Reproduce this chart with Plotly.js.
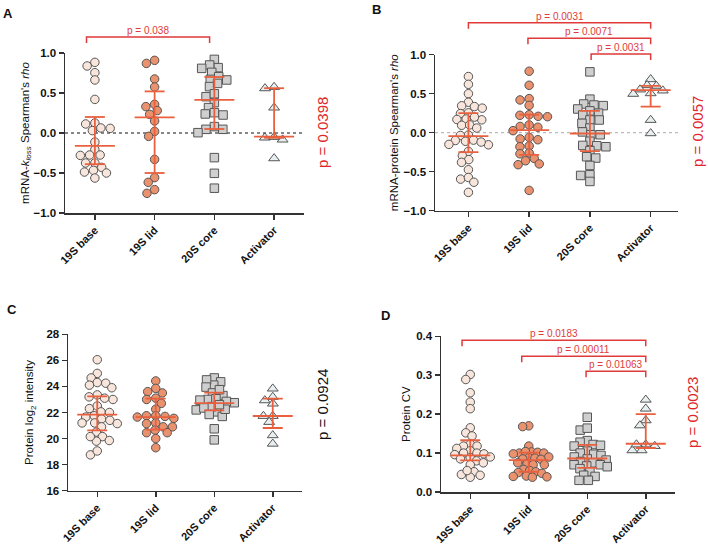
<!DOCTYPE html>
<html>
<head>
<meta charset="utf-8">
<script src="https://cdn.plot.ly/plotly-3.0.1.min.js"></script>
<style>html,body{margin:0;padding:0;background:#fff}#chart{width:708px;height:544px}</style>
</head>
<body>
<div id="chart"></div>
<script>
// ---------- DATA ----------
const categories = ["19S base", "19S lid", "20S core", "Activator"];

// Panel A: mRNA-kloss Spearman's rho
const baseA = [0.883, 0.838, 0.754, 0.663, 0.42, 0.125, 0.113, 0.063, 0.03, 0.058, -0.113, -0.208, -0.275, -0.275, -0.28, -0.375, -0.43, -0.375, -0.488, -0.467, -0.563, -0.5];
const lidA = [0.908, 0.87, 0.675, 0.575, 0.33, 0.358, 0.28, 0.233, 0.15, 0.02, -0.042, -0.33, -0.558, -0.617, -0.708, -0.754];
const coreA = [0.92, 0.817, 0.85, 0.808, 0.758, 0.704, 0.663, 0.67, 0.58, 0.62, 0.454, 0.49, 0.38, 0.317, 0.254, 0.225, 0.238, 0.08, 0.046, 0.004, 0.046, -0.308, -0.504, -0.69];
const actA = [0.575, 0.558, 0.317, -0.058, -0.083, -0.05, -0.317];
const medianA = [-0.16, 0.195, 0.415, -0.045];
const q1A = [-0.39, -0.5, 0.05, -0.06];
const q3A = [0.2, 0.52, 0.7, 0.56];

// Panel B: mRNA-protein Spearman's rho
const baseB = [0.72, 0.62, 0.5, 0.39, 0.335, 0.345, 0.315, 0.245, 0.255, 0.175, 0.165, 0.17, 0.2, 0.095, 0.1, 0.06, -0.03, -0.035, -0.095, -0.11, -0.1, -0.155, -0.15, -0.12, -0.24, -0.295, -0.345, -0.38, -0.475, -0.595, -0.574, -0.635, -0.765];
const lidB = [0.788, 0.608, 0.437, 0.42, 0.35, 0.23, 0.223, 0.21, 0.205, 0.1, 0.07, 0.08, 0.026, -0.06, -0.08, -0.09, -0.17, -0.18, -0.26, -0.27, -0.33, -0.36, -0.4, -0.41, -0.74];
const coreB = [0.78, 0.43, 0.368, 0.347, 0.355, 0.304, 0.28, 0.25, 0.227, 0.163, 0.163, 0.12, 0.06, 0.01, -0.026, -0.026, -0.11, -0.167, -0.18, -0.163, -0.23, -0.325, -0.308, -0.42, -0.54, -0.548, -0.625];
const actB = [0.685, 0.6, 0.608, 0.54, 0.553, 0.497, 0.505, 0.163, -0.008];
const medianB = [-0.045, 0.033, -0.01, 0.545];
const q1B = [-0.25, -0.285, -0.235, 0.335];
const q3B = [0.25, 0.232, 0.28, 0.6];

// Panel C: Protein log2 intensity
const baseC = [26.05, 25.0, 24.65, 24.25, 24.3, 23.9, 24.1, 23.35, 23.0, 23.1, 23.2, 22.3, 22.5, 22.0, 21.75, 22.05, 21.5, 21.4, 21.65, 21.2, 21.15, 21.2, 20.9, 20.5, 20.15, 19.85, 19.8, 20.15, 18.75, 19.05];
const lidC = [24.42, 23.5, 23.85, 23.6, 23.1, 23.0, 22.7, 22.25, 21.75, 21.55, 21.65, 21.7, 21.75, 21.2, 21.15, 20.9, 20.9, 20.65, 20.45, 20.45, 20.0, 19.3];
const coreC = [24.65, 24.35, 24.1, 24.5, 23.95, 23.5, 23.3, 23.75, 23.0, 22.75, 22.85, 22.95, 23.05, 22.2, 22.05, 22.45, 22.35, 21.85, 21.7, 22.25, 22.6, 20.75, 19.9];
const actC = [23.83, 23.19, 22.93, 22.68, 21.73, 21.73, 21.27, 20.25, 19.6];
const medianC = [21.83, 21.65, 22.72, 21.73];
const q1C = [20.63, 20.68, 22.17, 20.81];
const q3C = [23.24, 23.06, 23.52, 23.06];

// Panel D: Protein CV
const baseD = [0.302, 0.289, 0.255, 0.231, 0.214, 0.165, 0.152, 0.144, 0.123, 0.118, 0.112, 0.118, 0.106, 0.1, 0.1, 0.098, 0.096, 0.09, 0.088, 0.085, 0.08, 0.075, 0.07, 0.052, 0.045, 0.038, 0.043, 0.055];
const lidD = [0.17, 0.168, 0.118, 0.103, 0.1, 0.098, 0.102, 0.104, 0.1, 0.09, 0.088, 0.087, 0.085, 0.084, 0.075, 0.072, 0.07, 0.07, 0.058, 0.055, 0.052, 0.05, 0.048, 0.04, 0.039, 0.041, 0.038];
const coreD = [0.192, 0.159, 0.164, 0.132, 0.128, 0.122, 0.12, 0.118, 0.105, 0.1, 0.097, 0.094, 0.09, 0.085, 0.082, 0.078, 0.075, 0.07, 0.07, 0.067, 0.065, 0.06, 0.052, 0.043, 0.04, 0.03, 0.03];
const actD = [0.237, 0.214, 0.184, 0.171, 0.122, 0.118, 0.107, 0.107, 0.122];
const medianD = [0.094, 0.082, 0.086, 0.124];
const q1D = [0.081, 0.052, 0.062, 0.113];
const q3D = [0.133, 0.101, 0.121, 0.2];

// Pairwise comparisons: [group i, group j, label]
const pairsA = [[0, 2, "p = 0.038"]];
const pairsB = [[0, 3, "p = 0.0031"], [1, 3, "p = 0.0071"], [2, 3, "p = 0.0031"]];
const pairsD = [[0, 3, "p = 0.0183"], [1, 3, "p = 0.00011"], [2, 3, "p = 0.01063"]];
const overallP = ["p = 0.0398", "p = 0.0057", "p = 0.0924", "p = 0.0023"];

// ---------- STYLE / LAYOUT CONFIG ----------
const W = 708, H = 544;
const FONT = "Liberation Sans, Arial, Helvetica, sans-serif";
const EB = "#e9603f", BR = "#e03a3a", PRED = "#e0262a";
const markerStyles = [
  {symbol: "circle", color: "#f8e6dc", size: 8.5},
  {symbol: "circle", color: "#ea916e", size: 8.5},
  {symbol: "square", color: "#cfcfcf", size: 8.5},
  {symbol: "triangle-up", color: "#e7eff1", size: 9.5}
];

const panels = [
  {id: "", letter: "A", box: [65, 304, 53, 213], xr: [-0.5, 3.5], yr: [-1, 1], dtick: 0.5, fmt: ".1f",
   groups: [baseA, lidA, coreA, actA], med: medianA, q1: q1A, q3: q3A,
   title: "mRNA-<i>k<sub>loss</sub></i> Spearman's <i>rho</i>", standoff: 1,
   zero: {color: "#111", dash: "dot"}, pairs: pairsA, brY: [1.2], brX: [[-0.14, 1.92]],
   pText: overallP[0], pColor: PRED, pPos: [322, 133], letterPos: [1, 13]},
  {id: "2", letter: "B", box: [435, 678, 54.7, 210.7], xr: [-0.55, 3.45], yr: [-1, 1], dtick: 0.5, fmt: ".1f",
   groups: [baseB, lidB, coreB, actB], med: medianB, q1: q1B, q3: q3B,
   title: "mRNA-protein Spearman's <i>rho</i>", standoff: 2,
   zero: {color: "#aaaaaa", dash: "dot"}, pairs: pairsB, brY: [1.41, 1.21, 1.01], brX: [[0, 3], [0.98, 3], [2.02, 3]],
   pText: overallP[1], pColor: PRED, pPos: [697, 132], letterPos: [370, 9]},
  {id: "3", letter: "C", box: [68, 302, 334.3, 490.7], xr: [-0.5, 3.5], yr: [16, 28], dtick: 2, fmt: "d",
   groups: [baseC, lidC, coreC, actC], med: medianC, q1: q1C, q3: q3C,
   title: "Protein log<sub>2</sub> intensity", standoff: 10,
   zero: null, pairs: [], brY: [], brX: [],
   pText: overallP[2], pColor: "#111", pPos: [322, 405], letterPos: [5, 309]},
  {id: "4", letter: "D", box: [441, 675, 336.3, 492], xr: [-0.5, 3.5], yr: [0, 0.4], dtick: 0.1, fmt: ".1f",
   groups: [baseD, lidD, coreD, actD], med: medianD, q1: q1D, q3: q3D,
   title: "Protein CV", standoff: 3,
   zero: null, pairs: pairsD, brY: [0.39, 0.349, 0.31], brX: [[-0.14, 3], [0.88, 3], [1.98, 3]],
   pText: overallP[3], pColor: PRED, pPos: [692, 413], letterPos: [379, 315]}
];

// ---------- BEESWARM (pixel space, elliptical exclusion, width-capped) ----------
function swarm(vals, sx, sy, Dx, Dy, maxHalf) {
  const idx = vals.map((v, i) => i).sort((a, b) => vals[b] - vals[a]);
  const placed = [];
  const off = new Array(vals.length).fill(0);
  const clash = (p, x, y) => ((p.x - x) / Dx) ** 2 + ((p.y - y) / Dy) ** 2 < 1 - 1e-6;
  for (const i of idx) {
    const y = vals[i] * sy;
    const cands = [0];
    for (const p of placed) {
      const dy = Math.abs(p.y - y);
      if (dy < Dy) { const dx = Dx * Math.sqrt(1 - (dy / Dy) ** 2); cands.push(p.x + dx, p.x - dx); }
    }
    cands.sort((a, b) => Math.abs(a) - Math.abs(b) || a - b);
    let best = 0;
    for (const c of cands) { if (!placed.some(p => clash(p, c, y))) { best = c; break; } }
    placed.push({x: best, y: y});
    off[i] = best;
  }
  const m = Math.max(...off.map(Math.abs));
  const k = m > maxHalf ? maxHalf / m : 1;
  return off.map(o => o * k / sx);
}

const traces = [];
const shapes = [];
const annotations = [];
const layout = {
  width: W, height: H, margin: {l: 0, r: 0, t: 0, b: 0},
  paper_bgcolor: "#fff", plot_bgcolor: "rgba(0,0,0,0)", showlegend: false,
  font: {family: FONT, color: "#111"}, shapes: shapes, annotations: annotations
};

panels.forEach(P => {
  const [l, r, t, b] = P.box;
  const sx = (r - l) / (P.xr[1] - P.xr[0]);
  const sy = (b - t) / (P.yr[1] - P.yr[0]);
  const xa = "x" + P.id, ya = "y" + P.id;
  const yToPaper = v => 1 - (b - (v - P.yr[0]) * sy) / H;

  layout["xaxis" + P.id] = {
    domain: [l / W, r / W], anchor: ya, range: P.xr, showgrid: false, zeroline: false,
    showline: true, linecolor: "#333", linewidth: 1.5, ticks: "outside", ticklen: 5, tickwidth: 1.5, tickcolor: "#333",
    tickmode: "array", tickvals: [0, 1, 2, 3], ticktext: categories, tickangle: -45,
    tickfont: {family: FONT, size: 11, weight: "bold", color: "#111"}, fixedrange: true
  };
  layout["yaxis" + P.id] = {
    domain: [1 - b / H, 1 - t / H], anchor: xa, range: P.yr, showgrid: false, zeroline: false,
    showline: true, linecolor: "#333", linewidth: 1.5, ticks: "outside", ticklen: 5, tickwidth: 1.5, tickcolor: "#333",
    dtick: P.dtick, tick0: P.yr[0], tickformat: P.fmt,
    tickfont: {family: FONT, size: 11.5, weight: "bold", color: "#111"},
    title: {text: P.title, font: {family: FONT, size: 11.5, color: "#111"}, standoff: P.standoff}, fixedrange: true
  };

  if (P.zero) {
    shapes.push({type: "line", xref: xa + " domain", yref: ya, x0: 0, x1: 1, y0: 0, y1: 0, layer: "below",
      line: {color: P.zero.color, width: 1, dash: P.zero.dash}});
  }

  P.groups.forEach((vals, g) => {
    const off = swarm(vals, sx, sy, 9.3, 6.5, 20);
    const ms = markerStyles[g];
    traces.push({
      type: "scatter", mode: "markers", xaxis: xa, yaxis: ya, name: categories[g],
      x: vals.map((v, i) => g + off[i]), y: vals, cliponaxis: false, hoverinfo: "skip",
      marker: {symbol: ms.symbol, color: ms.color, size: ms.size, line: {color: "#555", width: 1}}
    });
    // median + interquartile range
    const mh = 20 / sx, ch = 10 / sx;
    const ln = {color: EB, width: 1.8};
    shapes.push({type: "line", xref: xa, yref: ya, x0: g, x1: g, y0: P.q1[g], y1: P.q3[g], line: ln});
    shapes.push({type: "line", xref: xa, yref: ya, x0: g - mh, x1: g + mh, y0: P.med[g], y1: P.med[g], line: ln});
    shapes.push({type: "line", xref: xa, yref: ya, x0: g - ch, x1: g + ch, y0: P.q1[g], y1: P.q1[g], line: ln});
    shapes.push({type: "line", xref: xa, yref: ya, x0: g - ch, x1: g + ch, y0: P.q3[g], y1: P.q3[g], line: ln});
  });

  P.pairs.forEach((pr, k) => {
    const yTop = yToPaper(P.brY[k]);
    const yDrop = yTop - 6 / H;
    const [x0, x1] = P.brX[k];
    shapes.push({type: "path", xref: xa, yref: "paper",
      path: `M ${x0},${yDrop} L ${x0},${yTop} L ${x1},${yTop} L ${x1},${yDrop}`,
      line: {color: BR, width: 1.5}});
    annotations.push({xref: xa, yref: "paper", x: (x0 + x1) / 2, y: yTop, yanchor: "bottom", xanchor: "center",
      showarrow: false, text: pr[2], font: {family: FONT, size: 10, color: BR}, yshift: -1});
  });

  annotations.push({xref: "paper", yref: "paper", x: P.pPos[0] / W, y: 1 - P.pPos[1] / H,
    xanchor: "center", yanchor: "middle", showarrow: false, textangle: -90, text: P.pText,
    font: {family: FONT, size: 15, color: P.pColor}});
  annotations.push({xref: "paper", yref: "paper", x: P.letterPos[0] / W, y: 1 - P.letterPos[1] / H,
    xanchor: "left", yanchor: "middle", showarrow: false, text: "<b>" + P.letter + "</b>",
    font: {family: FONT, size: 13, color: "#111"}});
});

Plotly.newPlot("chart", traces, layout, {staticPlot: true, displayModeBar: false});
</script>
</body>
</html>
